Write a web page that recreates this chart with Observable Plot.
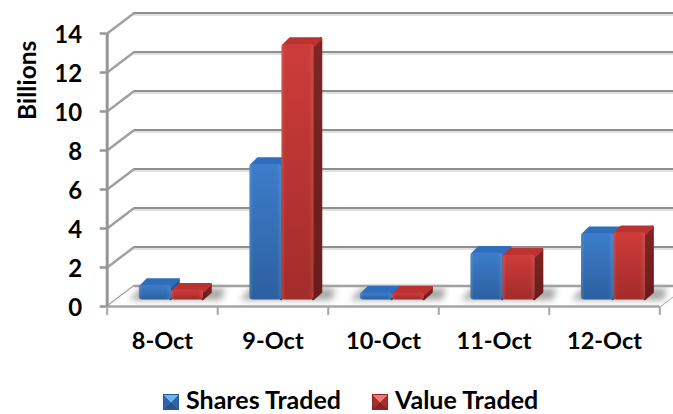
<!DOCTYPE html>
<html>
<head>
<meta charset="utf-8">
<script src="https://cdn.jsdelivr.net/npm/d3@7"></script>
<script src="https://cdn.jsdelivr.net/npm/@observablehq/plot@0.6"></script>
<style>
html,body{margin:0;padding:0;background:#fff;overflow:hidden}
#legend{display:flex;justify-content:flex-start;align-items:center;height:24px;padding-top:11.5px;padding-bottom:3.5px;padding-left:163px;font:bold 25px/24px Lato,sans-serif;color:#000}
#legend span.s{display:inline-block;width:16px;height:16px;margin-right:7px;box-sizing:border-box;position:relative;top:3px}
#legend span.t{margin-right:31px;white-space:nowrap}
</style>
</head>
<body>
<div id="chart"></div>
<div id="legend">
<span class="s" style="background:conic-gradient(from -45deg,#6fb2ee 0 90deg,#2f66ab 90deg 180deg,#27538a 180deg 270deg,#2f66ab 270deg 360deg);border:1px solid #2a5a96"></span><span class="t">Shares Traded</span>
<span class="s" style="background:conic-gradient(from -45deg,#ee7a78 0 90deg,#a82e2c 90deg 180deg,#7f2422 180deg 270deg,#a82e2c 270deg 360deg);border:1px solid #8a2523"></span><span class="t">Value Traded</span>
</div>
<script>
const categories = ["8-Oct", "9-Oct", "10-Oct", "11-Oct", "12-Oct"];
const sharesTraded = [0.75, 6.95, 0.35, 2.4, 3.4];
const valueTraded = [0.5, 13.1, 0.35, 2.3, 3.45];
const yTicks = [0, 2, 4, 6, 8, 10, 12, 14];

const H = 375;
// 3D projection expressed in scale units
const wallDX = 27 / 110.5, wallDY = 20.5 / 19.5;
const barDX = 8 / 110.5, barDY = 7 / 19.5;
const baseX = 9 / 110.5, baseY = 6.5 / 19.5;
const barW = 0.29;
const pad = 1 / 110.5, padY = 1 / 19.5; // inset that the rounded stroke grows back

const series = [
  {name: "Shares", vals: sharesTraded, off: -barW, front: "url(#blueFront)", top: "#2f6dbd", side: "#24528c"},
  {name: "Value", vals: valueTraded, off: 0, front: "url(#redFront)", top: "#bb3230", side: "url(#redSide)"}
];

const bars = [], tops = [], sides = [], shadows = [];
series.forEach(s => s.vals.forEach((v, i) => {
  const x1 = i + 0.5 + baseX + s.off, x2 = x1 + barW, y1 = baseY, y2 = baseY + v;
  const id = s.name + i;
  bars.push({id, s: s.name, x1, x2, y1, y2, front: s.front});
  [[x1 + pad, y2 - padY], [x1 + barDX, y2 + barDY - padY], [x2 + barDX - pad, y2 + barDY - padY], [x2, y2 - padY], [x1 + pad, y2 - padY]]
    .forEach(([x, y]) => tops.push({id, s: s.name, x, y}));
  [[x2 - pad, y1 + padY], [x2 + barDX - pad, y1 + barDY + padY], [x2 + barDX - pad, y2 + barDY - padY], [x2 - pad, y2 - padY], [x2 - pad, y1 + padY]]
    .forEach(([x, y]) => sides.push({id, s: s.name, x, y}));
}));
categories.forEach((c, i) => {
  const x1 = i + 0.5 + baseX - barW - 0.09, x2 = i + 0.5 + baseX + barW + barDX + 0.12;
  [[x1, baseY], [x2 - 0.03, baseY], [x2, baseY + barDY + 0.25], [x1 + 0.1, baseY + barDY + 0.25], [x1, baseY]]
    .forEach(([x, y]) => shadows.push({id: c, x, y}));
});

const floorEdge = [[0, 0], [wallDX, wallDY], [5 + wallDX, wallDY], [5, 0], [0, 0]].map(([x, y]) => ({x, y}));
const gridBack = yTicks.map(v => ({v}));

const defs = () => {
  const g = d3.create("svg:defs");
  g.html(`
  <linearGradient id="blueFront" x1="0" y1="0" x2="0" y2="1"><stop offset="0" stop-color="#3d7dcb"/><stop offset="1" stop-color="#2c609f"/></linearGradient>
  <linearGradient id="redFront" x1="0" y1="0" x2="0" y2="1"><stop offset="0" stop-color="#cd3c3a"/><stop offset="1" stop-color="#a32c2a"/></linearGradient>
  <linearGradient id="redSide" x1="0" y1="0" x2="0" y2="1"><stop offset="0" stop-color="#802524"/><stop offset="1" stop-color="#681c1b"/></linearGradient>
  <linearGradient id="edge" x1="0" y1="0" x2="1" y2="0"><stop offset="0" stop-color="#fff" stop-opacity=".12"/><stop offset=".12" stop-color="#fff" stop-opacity="0"/><stop offset=".85" stop-color="#fff" stop-opacity="0"/><stop offset="1" stop-color="#fff" stop-opacity=".1"/></linearGradient>`);
  return g.node();
};

const plot = Plot.plot({
  width: 673,
  height: H,
  marginLeft: 106.7,
  marginRight: 13.7,
  marginTop: 33,
  marginBottom: H - 306,
  x: {type: "linear", domain: [0, 5], axis: null},
  y: {type: "linear", domain: [0, 14], axis: null},
  style: {background: "#fff", fontFamily: "Lato, sans-serif"},
  marks: [
    defs,
    Plot.ruleY(gridBack, {y: d => d.v + wallDY, x1: wallDX, x2: 5 + wallDX, stroke: "#e0e0e0", strokeWidth: 2, dy: 2}),
    Plot.ruleY(gridBack, {y: d => d.v + wallDY, x1: wallDX, x2: 5 + wallDX, stroke: "#8f8f8f", strokeWidth: 2}),
    Plot.link(gridBack, {x1: 0, y1: d => d.v, x2: wallDX, y2: d => d.v + wallDY, stroke: "#a0a0a0", strokeWidth: 2.5}),
    Plot.link(gridBack, {x1: 5, y1: d => d.v === 0 ? 0 : NaN, x2: 5 + wallDX, y2: d => d.v === 0 ? wallDY : NaN, stroke: "#b5b5b5", strokeWidth: 2}),
    Plot.line(floorEdge, {x: "x", y: "y", fill: "#fff", stroke: "none"}),
    Plot.ruleY([wallDY], {x1: wallDX, x2: 5 + wallDX, stroke: "#a0a0a0", strokeWidth: 2.5}),
    Plot.line(shadows, {x: "x", y: "y", z: "id", fill: "#a8a8a8", stroke: "none", imageFilter: "blur(3px)"}),
    Plot.ruleY([0], {x1: 0, x2: 5, stroke: "#a6a6a6", strokeWidth: 2.5}),
    Plot.ruleX([0], {y1: 0, y2: 14, stroke: "#969696", strokeWidth: 3}),
    ...series.flatMap(s => [
      Plot.line(sides, {filter: d => d.s === s.name, x: "x", y: "y", z: "id", fill: s.side, stroke: s.side, strokeWidth: 2.5, strokeLinejoin: "round"}),
      Plot.line(tops, {filter: d => d.s === s.name, x: "x", y: "y", z: "id", fill: s.top, stroke: s.top, strokeWidth: 2.5, strokeLinejoin: "round"}),
      Plot.rect(bars, {filter: d => d.s === s.name, x1: "x1", x2: "x2", y1: "y1", y2: "y2", fill: s.front, rx: 3}),
      Plot.rect(bars, {filter: d => d.s === s.name, x1: "x1", x2: "x2", y1: "y1", y2: "y2", fill: "url(#edge)", rx: 3})
    ]),
    Plot.axisY({ticks: yTicks, anchor: "left", tickSize: 7, stroke: "#969696", strokeWidth: 2.5, tickFormat: () => "", label: null}),
    Plot.axisY({ticks: yTicks, anchor: "left", tickSize: 0, tickPadding: 25, dy: 2, fontSize: 24, fontWeight: 700, fill: "#000", label: null}),
    Plot.axisX({ticks: d3.range(0, 6), anchor: "bottom", tickSize: 9, stroke: "#a6a6a6", strokeWidth: 2, tickFormat: () => "", label: null}),
    Plot.axisX({ticks: categories.map((c, i) => i + 0.5), anchor: "bottom", tickSize: 0, tickPadding: 26, tickFormat: d => categories[d - 0.5], fontSize: 23.5, fontWeight: 700, fill: "#000", label: null}),
    Plot.text(["Billions"], {x: -79.5 / 110.5, y: 11.6, rotate: -90, fontSize: 24.5, fontWeight: 700, fill: "#000"})
  ]
});
document.getElementById("chart").appendChild(plot);
</script>
</body>
</html>
